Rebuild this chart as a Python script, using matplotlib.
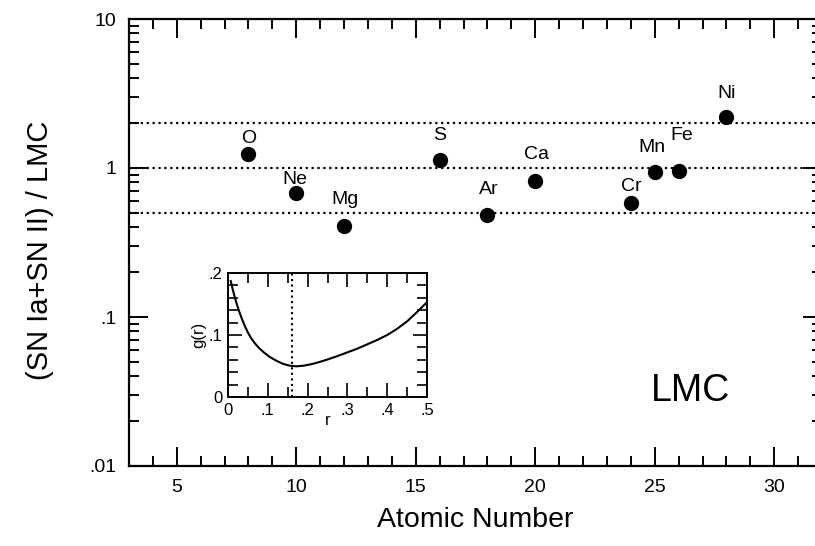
import matplotlib
matplotlib.use("Agg")
import matplotlib.pyplot as plt
from matplotlib.ticker import FixedLocator, MultipleLocator, LogLocator, NullFormatter

plt.rcParams.update({
    "font.family": ["Liberation Sans", "DejaVu Sans"],
    "font.size": 12,
})

# abundance ratios (SN Ia + SN II) / LMC
elements = ["O", "Ne", "Mg", "S", "Ar", "Ca", "Cr", "Mn", "Fe", "Ni"]
atomic_number = [8, 10, 12, 16, 18, 20, 24, 25, 26, 28]
ratio = [1.24, 0.68, 0.41, 1.13, 0.48, 0.82, 0.58, 0.94, 0.96, 2.2]
ref_levels = [0.5, 1.0, 2.0]

# label offsets (points) above each marker
lab_dx = [0, -1, 1, 0, 1, 1, 0, -2, 2, 0]
lab_dy = [11, 10, 19, 18, 19, 19, 12, 18, 25, 17]

# inset: g(r) curve
r_vals = [0.007, 0.012, 0.017, 0.022, 0.028, 0.035, 0.042, 0.05, 0.058, 0.067,
          0.078, 0.09, 0.104, 0.12, 0.138, 0.155, 0.172, 0.19, 0.21, 0.23,
          0.25, 0.275, 0.3, 0.325, 0.35, 0.375, 0.4, 0.425, 0.45, 0.475, 0.5]
g_vals = [0.187, 0.173, 0.161, 0.150, 0.138, 0.126, 0.115, 0.104, 0.095, 0.087,
          0.079, 0.072, 0.065, 0.059, 0.0535, 0.0505, 0.0495, 0.0505, 0.053, 0.0565,
          0.0605, 0.066, 0.072, 0.078, 0.085, 0.092, 0.1, 0.110, 0.122, 0.137, 0.153]
r_min = 0.161

W, H = 815, 546
fig = plt.figure(figsize=(W / 100, H / 100), dpi=100)


def px_axes(l, r, t, b):
    return fig.add_axes([l / W, 1 - b / H, (r - l) / W, (b - t) / H])


ax = px_axes(129, 822, 19, 466)
ax.set_xlim(3, 32)
ax.set_yscale("log")
ax.set_ylim(0.01, 10)
for sp in ax.spines.values():
    sp.set_linewidth(1.6)

for lev in ref_levels:
    ax.axhline(lev, color="black", ls=":", lw=1.6, zorder=1)

ax.plot(atomic_number, ratio, "o", color="black", ms=10, zorder=3)
for name, x, y, dx, dy in zip(elements, atomic_number, ratio, lab_dx, lab_dy):
    ax.annotate(name, (x, y), xytext=(dx, dy), textcoords="offset points",
                ha="center", va="center", fontsize=14)

ax.xaxis.set_major_locator(MultipleLocator(5))
ax.xaxis.set_minor_locator(MultipleLocator(1))
ax.yaxis.set_major_locator(FixedLocator([0.01, 0.1, 1, 10]))
ax.yaxis.set_minor_locator(LogLocator(base=10, subs=range(2, 10)))
ax.yaxis.set_minor_formatter(NullFormatter())
ax.set_yticklabels([".01", ".1", "1", "10"])
ax.tick_params(which="both", direction="in", top=True, right=True, width=1.4)
ax.tick_params(which="major", length=14, pad=9, labelsize=14)
ax.tick_params(which="minor", length=7)

fig.text(475 / W, 1 - 520 / H, "Atomic Number", ha="center", va="center", fontsize=20.5)
fig.text(40 / W, 1 - 250 / H, "(SN Ia+SN II) / LMC", ha="center", va="center",
         rotation=90, fontsize=21)
fig.text(691 / W, 1 - 391 / H, "LMC", ha="center", va="center", fontsize=27)

# inset
ins = px_axes(228, 427, 273, 397)
ins.plot(r_vals, g_vals, color="black", lw=1.5)
ins.axvline(r_min, color="black", ls=":", lw=1.5)
ins.set_xlim(0, 0.5)
ins.set_ylim(0, 0.2)
for sp in ins.spines.values():
    sp.set_linewidth(1.4)
ins.xaxis.set_minor_locator(MultipleLocator(0.05))
ins.yaxis.set_minor_locator(MultipleLocator(0.02))
ins.set_xticks([0, 0.1, 0.2, 0.3, 0.4, 0.5])
ins.set_xticklabels(["0", ".1", ".2", ".3", ".4", ".5"])
ins.set_yticks([0, 0.1, 0.2])
ins.set_yticklabels(["0", ".1", ".2"])
ins.tick_params(which="both", direction="in", top=True, right=True, width=1.2,
                labelsize=12)
ins.tick_params(which="major", length=10, pad=4)
ins.tick_params(which="minor", length=7)
ins.set_xlabel("r", fontsize=12, labelpad=-3)
ins.set_ylabel("g(r)", fontsize=12, labelpad=2)

fig.savefig("out.png", dpi=100)
